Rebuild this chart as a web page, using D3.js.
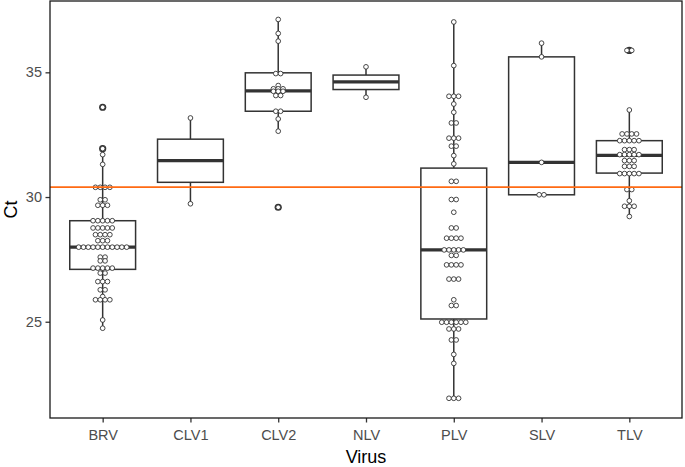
<!DOCTYPE html>
<html>
<head>
<meta charset="utf-8">
<script src="https://cdn.jsdelivr.net/npm/d3@7"></script>
<style>
  html, body { margin: 0; padding: 0; background: #fff; }
  svg { display: block; }
</style>
</head>
<body>
<svg id="chart" width="685" height="467"></svg>
<script>
// ---- data ----
const categories = ["BRV", "CLV1", "CLV2", "NLV", "PLV", "SLV", "TLV"];

const brvCt = [33.6, 31.94, 31.7, 31.31,
  30.39, 30.39, 30.39, 30.39, 29.89, 29.89, 29.67, 29.67, 29.67,
  29.05, 29.05, 29.05, 29.05, 29.05, 28.76, 28.76, 28.76, 28.76, 28.76,
  28.49, 28.49, 28.49, 28.49, 28.25, 28.25, 28.25,
  27.99, 27.99, 27.99, 27.99, 27.99, 27.99, 27.99, 27.99, 27.99, 27.99, 27.99,
  27.59, 27.59, 27.44, 27.44, 27.15, 27.15, 27.15, 27.15, 27.15,
  26.95, 26.95, 26.61, 26.61, 26.61, 26.28, 26.28, 26.01,
  25.88, 25.88, 25.88, 25.88, 25.07, 24.74];
const clv1Ct = [33.17, 29.73];
const clv2Ct = [37.12, 36.56, 36.25, 34.95, 34.95, 34.47, 34.34, 34.34, 34.34,
  34.24, 34.24, 34.24, 34.07, 34.07, 33.44, 33.44, 33.13, 32.64, 29.59];
const nlvCt = [35.22, 34.0];
const plvCt = [37.02, 35.27, 34.04, 34.04, 34.04, 33.73, 33.4, 32.97, 32.97,
  32.36, 32.36, 32.36, 32.04, 32.04, 31.66, 31.33, 30.63, 30.63, 29.9, 29.9, 29.39,
  28.76, 28.76, 28.35, 28.35, 28.35, 28.35, 27.88, 27.88, 27.88, 27.88, 27.88,
  27.66, 27.66, 27.28, 27.28, 27.28, 27.28, 26.71, 26.71, 26.71,
  25.88, 25.65, 25.65, 24.98, 24.98, 24.98, 24.98, 24.98, 24.98,
  24.71, 24.71, 24.71, 24.27, 24.27, 23.69, 23.33, 21.93, 21.93, 21.93];
const slvCt = [36.17, 35.62, 31.39, 30.09, 30.09];
const tlvCt = [35.88, 35.88, 33.49, 32.53, 32.53, 32.53, 32.53,
  32.26, 32.26, 32.26, 32.26, 32.26, 31.9, 31.9, 31.9,
  31.7, 31.7, 31.7, 31.7, 31.7, 31.46, 31.46, 31.46, 31.23, 31.23, 31.23,
  30.94, 30.94, 30.94, 30.94, 30.94, 30.3, 30.3, 29.85, 29.63, 29.63, 29.63, 29.22];
const dotSeries = [brvCt, clv1Ct, clv2Ct, nlvCt, plvCt, slvCt, tlvCt];

// box statistics per category (same order as categories)
const boxQ1     = [27.10, 30.59, 33.44, 34.31, 25.11, 30.09, 30.96];
const boxMedian = [27.99, 31.46, 34.26, 34.62, 27.88, 31.39, 31.67];
const boxQ3     = [29.05, 32.32, 34.98, 34.89, 31.16, 35.62, 32.26];
const whiskerLo = [24.74, 29.73, 32.64, 34.00, 21.93, 30.09, 29.22];
const whiskerHi = [31.70, 33.17, 37.12, 35.22, 37.02, 36.17, 33.49];
const outliers  = [[33.6, 31.94], [], [29.59], [], [], [], [35.88]];

const cutoff = 30.4;
const yTicks = [25, 30, 35];
const xTitle = "Virus";
const yTitle = "Ct";

// ---- layout ----
const svg = d3.select("#chart");
const P = { left: 50, right: 682, top: 1, bottom: 418 };
const font = "'Liberation Sans', Arial, Helvetica, sans-serif";
const ink = "#333";

const x = d3.scalePoint().domain(categories).range([P.left, P.right]).padding(0.6);
const y = d3.scaleLinear().domain([21.14, 37.86]).range([P.bottom, P.top]);
const boxW = x.step() * 0.75;

// axes
const yAxis = svg.append("g")
  .attr("transform", `translate(${P.left},0)`)
  .call(d3.axisLeft(y).tickValues(yTicks).tickSize(4.5).tickPadding(3.5));
const xAxis = svg.append("g")
  .attr("transform", `translate(0,${P.bottom})`)
  .call(d3.axisBottom(x).tickSize(4.5).tickPadding(7.5));
[xAxis, yAxis].forEach(g => {
  g.select(".domain").remove();
  g.selectAll(".tick line").attr("stroke", ink).attr("stroke-width", 1.3);
  g.selectAll(".tick text").attr("fill", "#4d4d4d")
    .style("font-family", font).style("font-size", "14.5px");
});

// boxes
const plot = svg.append("g");
const lw = 1.5;
categories.forEach((c, i) => {
  const cx = x(c);
  const g = plot.append("g");
  g.append("line").attr("x1", cx).attr("x2", cx)
    .attr("y1", y(boxQ3[i])).attr("y2", y(whiskerHi[i]))
    .attr("stroke", ink).attr("stroke-width", lw);
  g.append("line").attr("x1", cx).attr("x2", cx)
    .attr("y1", y(boxQ1[i])).attr("y2", y(whiskerLo[i]))
    .attr("stroke", ink).attr("stroke-width", lw);
  g.append("rect").attr("x", cx - boxW / 2).attr("width", boxW)
    .attr("y", y(boxQ3[i])).attr("height", y(boxQ1[i]) - y(boxQ3[i]))
    .attr("fill", "#fff").attr("stroke", ink).attr("stroke-width", lw);
  g.append("line").attr("x1", cx - boxW / 2).attr("x2", cx + boxW / 2)
    .attr("y1", y(boxMedian[i])).attr("y2", y(boxMedian[i]))
    .attr("stroke", ink).attr("stroke-width", 3.2);
  g.selectAll("circle.out").data(outliers[i]).join("circle")
    .attr("cx", cx).attr("cy", d => y(d)).attr("r", 3.6).attr("fill", ink);
});

// dots (centred rows of equal values)
const spacing = 4.8;
categories.forEach((c, i) => {
  const rows = d3.groups(dotSeries[i], d => d);
  const pts = [];
  rows.forEach(([v, arr]) => {
    arr.forEach((d, k) => pts.push({ v, off: (k - (arr.length - 1) / 2) * spacing }));
  });
  plot.append("g").selectAll("circle").data(pts).join("circle")
    .attr("cx", d => x(c) + d.off).attr("cy", d => y(d.v)).attr("r", 2.35)
    .attr("fill", "#fff").attr("stroke", ink).attr("stroke-width", 0.9);
});

// cutoff line
svg.append("line").attr("x1", P.left).attr("x2", P.right)
  .attr("y1", y(cutoff)).attr("y2", y(cutoff))
  .attr("stroke", "#ff6a13").attr("stroke-width", 1.8);

// panel border
svg.append("rect").attr("x", P.left).attr("y", P.top)
  .attr("width", P.right - P.left).attr("height", P.bottom - P.top)
  .attr("fill", "none").attr("stroke", "#1a1a1a").attr("stroke-width", 1.3);

// titles
svg.append("text").attr("x", (P.left + P.right) / 2).attr("y", 463)
  .attr("text-anchor", "middle").style("font-family", font).style("font-size", "18px")
  .attr("fill", "#000").text(xTitle);
svg.append("text").attr("transform", `translate(17,${(P.top + P.bottom) / 2}) rotate(-90)`)
  .attr("text-anchor", "middle").style("font-family", font).style("font-size", "18px")
  .attr("fill", "#000").text(yTitle);
</script>
</body>
</html>
